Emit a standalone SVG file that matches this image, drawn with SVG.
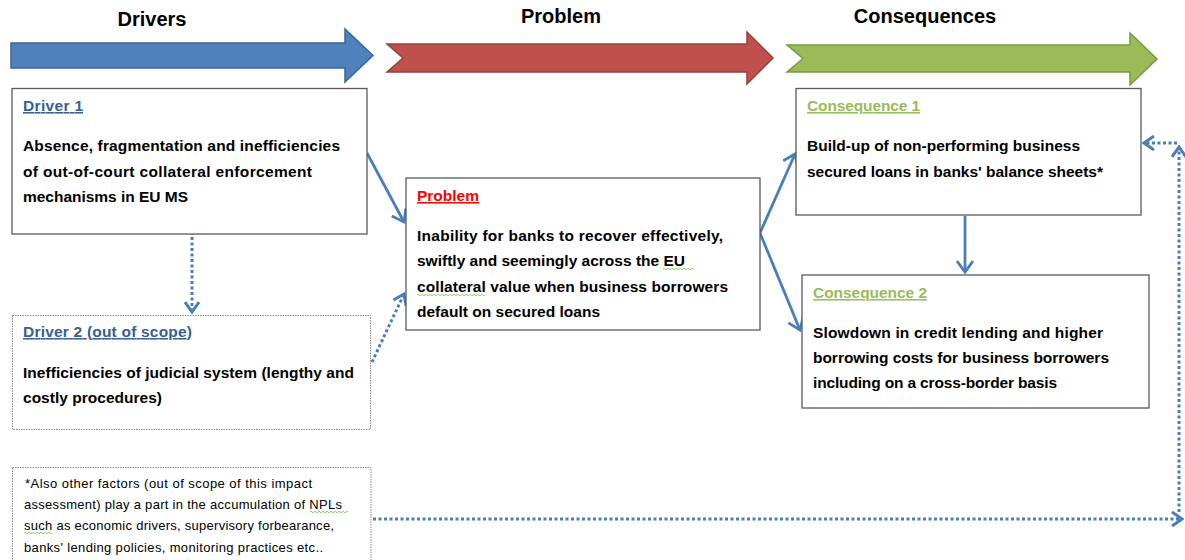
<svg xmlns="http://www.w3.org/2000/svg" width="1185" height="560" viewBox="0 0 1185 560">
<style>
.hdr{font-family:"Liberation Sans",Arial,sans-serif;font-weight:bold;font-size:20px;fill:#000;text-anchor:middle}
.t{font-family:"Liberation Sans",Arial,sans-serif;font-weight:bold;font-size:15.5px;fill:#000}
.ttl{font-family:"Liberation Sans",Arial,sans-serif;font-weight:bold;font-size:15.5px;text-decoration:underline}
.fn{font-family:"Liberation Sans",Arial,sans-serif;font-size:13px;fill:#000}
.box{fill:#fff;stroke:#595959;stroke-width:1.3}
.dbox{fill:#fff;stroke:#8a8a8a;stroke-width:1;stroke-dasharray:1.5 1}
.solid{fill:none;stroke:#4A7EBB;stroke-width:2.8;marker-end:url(#ah)}
.dot{fill:none;stroke:#4A7EBB;stroke-width:3;stroke-dasharray:3 2.5;marker-end:url(#ahd)}
.wavy{fill:none;stroke:#6fbf4a;stroke-width:0.8}
</style>
<defs>
<marker id="ah" markerUnits="userSpaceOnUse" markerWidth="16" markerHeight="18" refX="11" refY="8" orient="auto" viewBox="-2 -1 16 18">
<path d="M0,0 L11,8 L0,16" fill="none" stroke="#4A7EBB" stroke-width="2.8"/>
</marker>
<marker id="ahd" markerUnits="userSpaceOnUse" markerWidth="14" markerHeight="16" refX="10" refY="7" orient="auto" viewBox="-2 -1 14 16">
<path d="M0,0 L10,7 L0,14" fill="none" stroke="#4A7EBB" stroke-width="3"/>
</marker>
</defs>

<g id="header">
<polygon points="11,43 345,43 345,29 373,55.5 345,82 345,68 11,68" fill="#4F81BD" stroke="#3A6698" stroke-width="1.5"/>
<polygon points="387,44 747,44 747,32 773,58 747,84 747,72 387,72 403,58" fill="#C0504D" stroke="#94403D" stroke-width="1.5"/>
<polygon points="787,45 1130,45 1130,33 1157,59 1130,85 1130,72 787,72 803,58.5" fill="#9BBB59" stroke="#7A9A3E" stroke-width="1.5"/>
<text class="hdr" x="152" y="26">Drivers</text>
<text class="hdr" x="561" y="23">Problem</text>
<text class="hdr" x="925" y="23">Consequences</text>
</g>

<g id="connectors">
<path class="solid" d="M367,153 L404,222"/>
<path class="solid" d="M760,233 L795,154"/>
<path class="solid" d="M760,233 L800,330"/>
<path class="solid" d="M965,216 L965,272"/>
<path class="dot" d="M192,237 L192,312"/>
<path class="dot" d="M372,362 L404,294"/>
<path class="dot" d="M373,519 L1182,519"/>
<path class="dot" d="M1179,512 L1179,147"/>
<path class="dot" d="M1177,143 L1144,143"/>
</g>

<g id="driver1">
<rect class="box" x="12" y="88.5" width="355" height="145.5"/>
<text class="ttl" x="23" y="111" fill="#376092" textLength="60">Driver 1</text>
<text class="t" x="23" y="151" textLength="317">Absence, fragmentation and inefficiencies</text>
<text class="t" x="23" y="177" textLength="289">of out-of-court collateral enforcement</text>
<text class="t" x="23" y="202" textLength="165">mechanisms in EU MS</text>
</g>

<g id="driver2">
<rect class="dbox" x="12.5" y="315.5" width="358" height="114"/>
<text class="ttl" x="23" y="337" fill="#376092" textLength="169">Driver 2 (out of scope)</text>
<text class="t" x="23" y="378" textLength="331">Inefficiencies of judicial system (lengthy and</text>
<text class="t" x="23" y="403" textLength="139">costly procedures)</text>
</g>

<g id="problem">
<rect class="box" x="406" y="178" width="354" height="152"/>
<text class="ttl" x="417" y="201" fill="#FF0000" textLength="62">Problem</text>
<text class="t" x="417" y="241" textLength="306">Inability for banks to recover effectively,</text>
<text class="t" x="417" y="266" textLength="268">swiftly and seemingly across the EU</text>
<text class="t" x="417" y="292" textLength="311">collateral value when business borrowers</text>
<text class="t" x="417" y="317" textLength="183">default on secured loans</text>
<path class="wavy" d="M663,269 q1,-1.5 2,0 t2,0 t2,0 t2,0 t2,0 t2,0 t2,0 t2,0 t2,0 t2,0 t2,0 t2,0 t2,0 t2,0 t2,0"/>
<path class="wavy" d="M417,295 q1,-1.5 2,0 t2,0 t2,0 t2,0 t2,0 t2,0 t2,0 t2,0 t2,0 t2,0 t2,0 t2,0 t2,0 t2,0 t2,0 t2,0 t2,0 t2,0 t2,0 t2,0 t2,0 t2,0 t2,0 t2,0 t2,0 t2,0 t2,0 t2,0 t2,0 t2,0 t2,0 t2,0 t2,0 t2,0"/>
</g>

<g id="consequence1">
<rect class="box" x="796" y="88.5" width="345" height="126.5"/>
<text class="ttl" x="807" y="111" fill="#9BBB59" textLength="113">Consequence 1</text>
<text class="t" x="807" y="151" textLength="273">Build-up of non-performing business</text>
<text class="t" x="807" y="177" textLength="296">secured loans in banks' balance sheets*</text>
</g>

<g id="consequence2">
<rect class="box" x="802" y="275" width="347" height="133"/>
<text class="ttl" x="813" y="298" fill="#9BBB59" textLength="114">Consequence 2</text>
<text class="t" x="813" y="338" textLength="290">Slowdown in credit lending and higher</text>
<text class="t" x="813" y="363" textLength="296">borrowing costs for business borrowers</text>
<text class="t" x="813" y="388" textLength="244">including on a cross-border basis</text>
</g>

<g id="footnote">
<rect class="dbox" x="12.5" y="467.5" width="358.5" height="110"/>
<text class="fn" x="25" y="488" textLength="287">*Also other factors (out of scope of this impact</text>
<text class="fn" x="24" y="509" textLength="318">assessment) play a part in the accumulation of NPLs</text>
<text class="fn" x="24" y="530" textLength="310">such as economic drivers, supervisory forbearance,</text>
<text class="fn" x="24" y="552" textLength="299">banks' lending policies, monitoring practices etc..</text>
<path class="wavy" d="M310,512 q1,-1.5 2,0 t2,0 t2,0 t2,0 t2,0 t2,0 t2,0 t2,0 t2,0 t2,0 t2,0 t2,0 t2,0 t2,0 t2,0 t2,0 t2,0 t2,0 t2,0"/>
<path class="wavy" d="M24,533 q1,-1.5 2,0 t2,0 t2,0 t2,0 t2,0 t2,0 t2,0 t2,0 t2,0 t2,0 t2,0 t2,0 t2,0 t2,0"/>
</g>
</svg>
